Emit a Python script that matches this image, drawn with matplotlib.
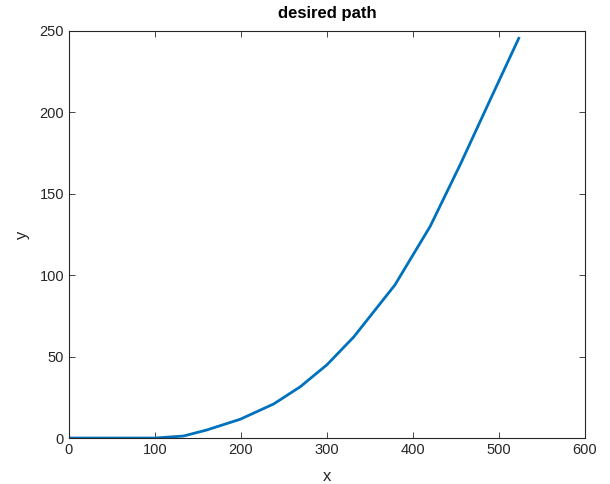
import matplotlib
matplotlib.use("Agg")
import matplotlib.pyplot as plt

# path points
x = [0, 100, 133, 160, 199, 238, 269, 300, 331, 379, 420, 455, 490, 523]
y = [0, 0, 1.2, 4.9, 11.5, 20.9, 31.5, 45, 62, 94, 130, 168, 208, 245.5]

xticks = [0, 100, 200, 300, 400, 500, 600]
yticks = [0, 50, 100, 150, 200, 250]

plt.rcParams['font.family'] = ['Liberation Sans', 'DejaVu Sans']

fig = plt.figure(figsize=(6.1, 4.84), dpi=100)
ax = fig.add_axes([0.113, 0.095, 0.846, 0.841])

ax.plot(x, y, color='#0072BD', linewidth=2)

ax.set_xlim(0, 600)
ax.set_ylim(0, 250)
ax.set_xticks(xticks)
ax.set_yticks(yticks)
ax.tick_params(direction='in', top=True, right=True, length=4,
               labelsize=10.5, colors='#262626', width=0.6)
for s in ax.spines.values():
    s.set_color('#262626')
    s.set_linewidth(0.8)

ax.set_xlabel('x', fontsize=12, color='#262626', labelpad=9)
ax.set_ylabel('y', fontsize=12, color='#262626', labelpad=7)
ax.set_title('desired path', fontsize=12, fontweight='bold', color='black', pad=9)

fig.savefig('out.png', dpi=100)
